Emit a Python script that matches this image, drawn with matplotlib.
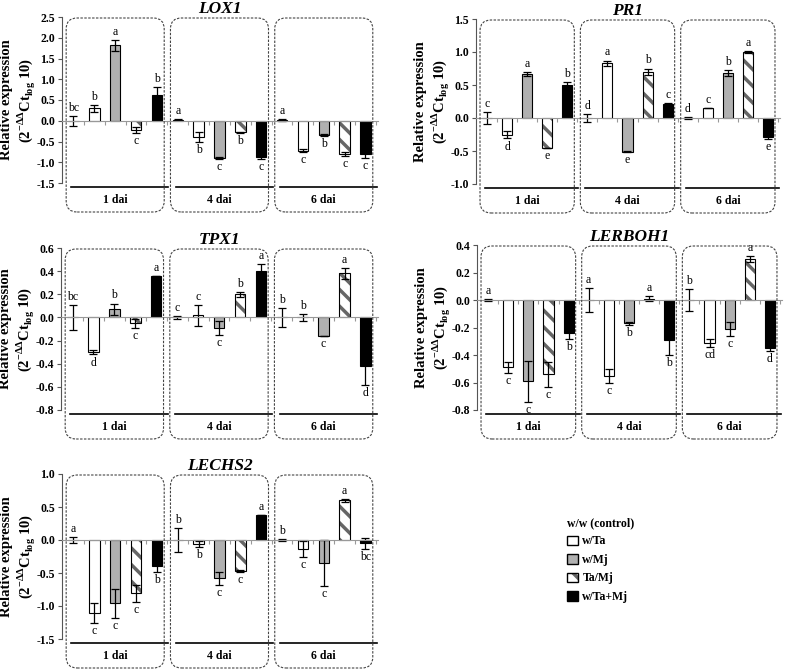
import numpy as np
import matplotlib
matplotlib.use("Agg")
import matplotlib.pyplot as plt
from matplotlib.patches import FancyBboxPatch, Patch
from matplotlib.transforms import IdentityTransform

plt.rcParams['font.family'] = 'Liberation Serif'
plt.rcParams['mathtext.fontset'] = 'custom'
plt.rcParams['mathtext.rm'] = 'Liberation Serif:bold'
plt.rcParams['axes.unicode_minus'] = False
plt.rcParams['hatch.linewidth'] = 2.5

treatments = ["w/w (control)", "w/Ta", "w/Mj", "Ta/Mj", "w/Ta+Mj"]
days = ["1 dai", "4 dai", "6 dai"]

# values are 1 dai, 4 dai, 6 dai; 5 treatments each
lox1_vals = [0.0, 0.30, 1.82, -0.22, 0.63,  0.03, -0.38, -0.90, -0.28, -0.87,  0.02, -0.72, -0.35, -0.80, -0.80]
lox1_err = [0.12, 0.08, 0.13, 0.08, 0.18,  0.02, 0.12, 0.03, 0.02, 0.05,  0.02, 0.03, 0.02, 0.05, 0.10]
lox1_sig = ["bc", "b", "a", "c", "b",  "a", "b", "c", "b", "c",  "a", "c", "b", "c", "c"]

pr1_vals = [0.0, -0.25, 0.67, -0.45, 0.50,  0.0, 0.83, -0.51, 0.70, 0.21,  0.0, 0.15, 0.68, 1.00, -0.29]
pr1_err = [0.09, 0.06, 0.03, 0.0, 0.05,  0.06, 0.04, 0.01, 0.05, 0.01,  0.01, 0.0, 0.05, 0.01, 0.03]
pr1_sig = ["c", "d", "a", "e", "b",  "d", "a", "e", "b", "c",  "d", "c", "b", "a", "e"]

tpx1_vals = [0.0, -0.30, 0.07, -0.05, 0.36,  0.0, 0.02, -0.09, 0.20, 0.40,  0.0, 0.0, -0.16, 0.38, -0.42]
tpx1_err = [0.11, 0.02, 0.05, 0.04, 0.0,  0.01, 0.09, 0.06, 0.02, 0.06,  0.08, 0.03, 0.0, 0.05, 0.16]
tpx1_sig = ["bc", "d", "b", "c", "a",  "c", "c", "c", "b", "a",  "b", "b", "c", "a", "d"]

lerboh1_vals = [0.0, -0.49, -0.59, -0.54, -0.24,  0.0, -0.55, -0.17, 0.01, -0.29,  0.0, -0.31, -0.21, 0.30, -0.35]
lerboh1_err = [0.01, 0.04, 0.15, 0.09, 0.04,  0.09, 0.05, 0.01, 0.02, 0.11,  0.08, 0.03, 0.05, 0.02, 0.02]
lerboh1_sig = ["a", "c", "c", "c", "b",  "a", "c", "b", "a", "b",  "b", "cd", "c", "a", "d"]

lechs2_vals = [0.0, -1.10, -0.96, -0.81, -0.40,  0.0, -0.06, -0.58, -0.47, 0.38,  0.0, -0.14, -0.35, 0.60, -0.05]
lechs2_err = [0.04, 0.15, 0.22, 0.13, 0.08,  0.18, 0.05, 0.10, 0.02, 0.0,  0.01, 0.12, 0.35, 0.02, 0.08]
lechs2_sig = ["a", "c", "c", "c", "b",  "b", "b", "c", "c", "a",  "b", "c", "c", "a", "bc"]

W, H = 787, 670
fig = plt.figure(figsize=(W / 100, H / 100), dpi=100)

face = ["white", "white", "#b0b0b0", "white", "black"]
ylab = "Relative expression\n(2$^{\\mathrm{-\u0394\u0394}}$Ct$_{\\mathrm{log}}$ 10)"


def panel(px, title, vals, errs, sig, ylim, yticks):
    l, t, r, b = px
    ax = fig.add_axes([l / W, 1 - b / H, (r - l) / W, (b - t) / H])
    vals = np.array(vals)
    errs = np.array(errs)
    x = np.arange(len(vals))
    kind = x % 5
    for k in range(5):
        m = kind == k
        if k == 3:
            ax.bar(x[m], vals[m], 0.5, color="white", edgecolor="#666666",
                   hatch="\\\\", linewidth=0, zorder=2)
            ax.bar(x[m], vals[m], 0.5, fill=False, edgecolor="black",
                   linewidth=0.8, zorder=3)
        else:
            ax.bar(x[m], vals[m], 0.5, color=face[k], edgecolor="black",
                   linewidth=0.8, zorder=3)
    ax.errorbar(x, vals, yerr=errs, fmt="none", ecolor="black",
                elinewidth=0.9, capsize=3.2, capthick=0.9, zorder=4)
    for i in x:
        if vals[i] >= 0:
            ax.annotate(sig[i], (i, vals[i] + errs[i]), xytext=(0, 1.5),
                        textcoords="offset points", ha="center", va="bottom",
                        fontsize=8.5)
        else:
            ax.annotate(sig[i], (i, vals[i] - errs[i]), xytext=(0, -1.5),
                        textcoords="offset points", ha="center", va="top",
                        fontsize=8.5)

    ax.set_xlim(-0.55, 14.6)
    ax.set_ylim(*ylim)
    yticks = np.round(yticks, 1) + 0.0
    ax.set_yticks(yticks)
    ax.set_yticklabels(["%.1f" % v for v in yticks], fontsize=8.5,
                       fontweight="bold")
    ax.tick_params(axis="y", length=3, width=0.8, color="#555555", pad=2)
    ax.set_xticks(np.arange(0.5, 14.6, 1))
    ax.set_xticklabels([])
    ax.tick_params(axis="x", length=3, width=0.8, color="#999999",
                   direction="out")
    for s in ["top", "right"]:
        ax.spines[s].set_visible(False)
    ax.spines["bottom"].set_position(("data", 0))
    ax.spines["bottom"].set_color("#999999")
    ax.spines["bottom"].set_zorder(5)
    ax.spines["left"].set_color("#555555")
    ax.spines["left"].set_linewidth(0.8)
    ax.patch.set_alpha(0)

    ax.set_title(title, fontsize=12.5, fontweight="bold", fontstyle="italic",
                 pad=2)
    ax.set_ylabel(ylab, fontsize=10.5, fontweight="bold", linespacing=1.15)
    ax.yaxis.set_label_coords(-25 / (r - l), 0.5)

    # group baseline, labels and rounded frames
    trans = ax.get_xaxis_transform()
    bb = ax.get_window_extent()
    for g, d in enumerate(days):
        ax.plot([g * 5 - 0.1, g * 5 + 4.55], [-4 / bb.height] * 2,
                transform=trans, color="black", lw=1.2, clip_on=False)
        ax.annotate(d, (g * 5 + 2, 0), xycoords=trans, xytext=(0, -17),
                    textcoords="offset pixels", ha="center", va="center",
                    fontsize=8.5, fontweight="bold")
        x0 = ax.transData.transform((g * 5 + 2 - 2.35, 0))[0]
        x1 = ax.transData.transform((g * 5 + 2 + 2.35, 0))[0]
        y0 = bb.y0 - 29
        y1 = bb.y1 - 1
        box = FancyBboxPatch((x0, y0), x1 - x0, y1 - y0,
                             boxstyle="round,pad=0,rounding_size=11",
                             transform=IdentityTransform(), fill=False,
                             edgecolor="#444444", linewidth=0.8,
                             linestyle=(0, (2.2, 1.3)), clip_on=False)
        fig.add_artist(box)
    return ax


panel((62, 17, 378, 183), "LOX1", lox1_vals, lox1_err, lox1_sig,
      (-1.5, 2.5), np.arange(-1.5, 2.51, 0.5))
panel((476, 19, 780, 184), "PR1", pr1_vals, pr1_err, pr1_sig,
      (-1.0, 1.5), np.arange(-1.0, 1.51, 0.5))
panel((61, 248, 378, 410), "TPX1", tpx1_vals, tpx1_err, tpx1_sig,
      (-0.8, 0.6), np.arange(-0.8, 0.61, 0.2))
panel((477, 245, 782, 410), "LERBOH1", lerboh1_vals, lerboh1_err, lerboh1_sig,
      (-0.8, 0.4), np.arange(-0.8, 0.41, 0.2))
panel((62, 474, 378, 639), "LECHS2", lechs2_vals, lechs2_err, lechs2_sig,
      (-1.5, 1.0), np.arange(-1.5, 1.01, 0.5))

handles = [
    Patch(facecolor="white", edgecolor="black"),
    Patch(facecolor="#b0b0b0", edgecolor="black"),
    (Patch(facecolor="white", edgecolor="#666666", hatch="\\\\", linewidth=0),
     Patch(fill=False, edgecolor="black")),
    Patch(facecolor="black", edgecolor="black"),
]
fig.legend(handles, treatments[1:], title=treatments[0], loc="upper left",
           bbox_to_anchor=(567 / W, 1 - 517 / H), frameon=False,
           prop={"weight": "bold", "size": 8.5},
           title_fontproperties={"weight": "bold", "size": 8.5},
           handlelength=0.9, handleheight=0.9, handletextpad=0.4,
           labelspacing=0.55, alignment="left", borderaxespad=0, borderpad=0)

fig.savefig("out.png", dpi=100)
